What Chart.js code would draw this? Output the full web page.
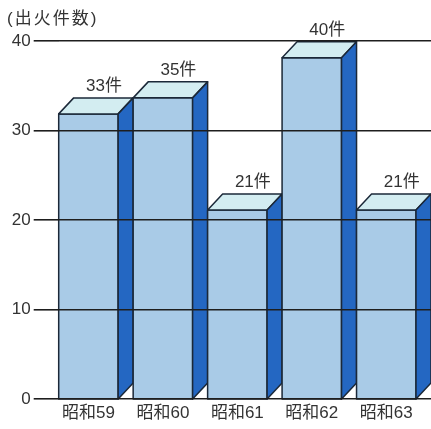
<!DOCTYPE html>
<html><head><meta charset="utf-8">
<script src="https://cdn.jsdelivr.net/npm/chart.js@4"></script>
<style>html,body{margin:0;padding:0;background:#fff}#wrap{width:431px;height:429px;position:relative}</style>
</head><body><div id="wrap"><canvas id="c"></canvas></div>
<script>
// ---- data ----
const categories = ['昭和59', '昭和60', '昭和61', '昭和62', '昭和63'];
const fireCounts = [33, 35, 21, 40, 21];
const valueSuffix = '件';
const yTickMin = 0;
const yTickMax = 40;
const yTickStep = 10;
const axisTitle = '(出火件数)';

// ---- style ----
const DX = 15, DY = 16;
const FRONT = '#a9cbe7', TOP = '#d3edf1', SIDE = '#2467c2', EDGE = '#1b2838';
const FONT = '"Liberation Sans", "Noto Sans CJK JP", sans-serif';
const TEXT = '#333';

const bar3d = {
  id: 'bar3d',
  afterDatasetsDraw(chart) {
    const ctx = chart.ctx, meta = chart.getDatasetMeta(0);
    const bottom = chart.chartArea.bottom;
    ctx.save();
    ctx.lineWidth = 1.5; ctx.strokeStyle = EDGE; ctx.lineJoin = 'round';
    const poly = (pts, fill) => {
      ctx.beginPath(); ctx.moveTo(pts[0][0], pts[0][1]);
      for (let i = 1; i < pts.length; i++) ctx.lineTo(pts[i][0], pts[i][1]);
      ctx.closePath(); ctx.fillStyle = fill; ctx.fill(); ctx.stroke();
    };
    meta.data.forEach(el => {
      const {x, y, width} = el.getProps(['x', 'y', 'width'], true);
      const L = x - width / 2, R = x + width / 2 - DX, T = y;
      poly([[L, T], [R, T], [R, bottom], [L, bottom]], FRONT);
      poly([[L, T], [L + DX, T - DY], [R + DX, T - DY], [R, T]], TOP);
      poly([[R, T], [R + DX, T - DY], [R + DX, bottom - DY], [R, bottom]], SIDE);
    });
    ctx.restore();
  },
  afterDraw(chart) {
    const ctx = chart.ctx, meta = chart.getDatasetMeta(0);
    ctx.save();
    ctx.fillStyle = TEXT;
    ctx.font = '17px ' + FONT;
    ctx.textAlign = 'center'; ctx.textBaseline = 'middle';
    meta.data.forEach((el, i) => {
      const {x, y} = el.getProps(['x', 'y'], true);
      const fc = x - DX / 2;
      ctx.fillText(fireCounts[i] + valueSuffix, fc + 15.5, y - DY - 12);
    });
    ctx.textAlign = 'left';
    ctx.letterSpacing = '2px';
    ctx.fillText(axisTitle, 7, 19);
    ctx.restore();
  }
};

new Chart(document.getElementById('c'), {
  type: 'bar',
  data: {
    labels: categories,
    datasets: [{
      data: fireCounts,
      yAxisID: 'y2',
      backgroundColor: 'rgba(0,0,0,0)',
      borderWidth: 0,
      barPercentage: 1,
      categoryPercentage: 1
    }]
  },
  options: {
    responsive: true,
    maintainAspectRatio: false,
    animation: false,
    devicePixelRatio: 1,
    layout: { padding: { top: 41, left: 7, right: 0, bottom: 1.6 } },
    plugins: { legend: { display: false }, tooltip: { enabled: false }, title: { display: false } },
    scales: {
      x: {
        type: 'category',
        offset: true,
        grid: { display: false, drawTicks: false },
        border: { display: false },
        ticks: { font: { size: 17, family: FONT }, color: TEXT, padding: 4, labelOffset: -7.5, maxRotation: 0, autoSkip: false }
      },
      y: {
        position: 'left',
        min: yTickMin, max: yTickMax,
        grid: { z: 1, color: '#1e1e1e', lineWidth: 1.6, drawTicks: true, tickLength: 25 },
        border: { display: false },
        ticks: { stepSize: yTickStep, font: { size: 17, family: FONT }, color: TEXT, padding: 3 },
        afterFit(s) { s.width = 51.7; }
      },
      y2: {
        display: false,
        position: 'left',
        min: -2.6, max: 42.1
      }
    }
  },
  plugins: [bar3d]
});
</script>
</body></html>
